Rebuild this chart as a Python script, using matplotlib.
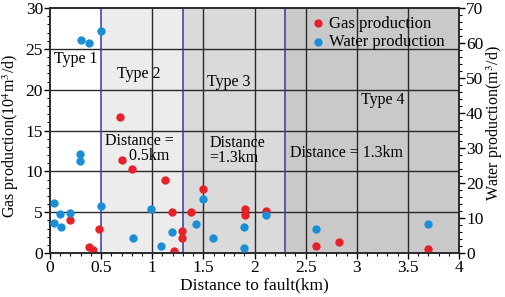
import matplotlib
matplotlib.use("Agg")
import matplotlib.pyplot as plt
from matplotlib.ticker import MultipleLocator

plt.rcParams['font.family'] = ['Liberation Serif', 'DejaVu Serif']
plt.rcParams['mathtext.fontset'] = 'stix'

# gas production (10^4 m3/d) vs distance to fault (km)
gas_x = [0.20, 0.38, 0.42, 0.48, 0.68, 0.70, 0.80, 1.12, 1.19, 1.21, 1.29, 1.29,
         1.38, 1.50, 1.91, 1.91, 2.11, 2.60, 2.83, 3.70]
gas_y = [4.0, 0.8, 0.4, 2.9, 16.6, 11.4, 10.3, 8.9, 5.0, 0.3, 2.7, 1.9,
         5.0, 7.8, 5.4, 4.6, 5.1, 0.9, 1.3, 0.5]

# water production (m3/d) vs distance to fault (km)
water_x = [0.04, 0.04, 0.10, 0.11, 0.20, 0.29, 0.29, 0.30, 0.38, 0.50, 0.50, 0.81,
           0.99, 1.09, 1.19, 1.43, 1.50, 1.59, 1.90, 1.90, 2.11, 2.60, 3.70]
water_y = [14.4, 8.5, 11.1, 7.3, 11.5, 28.3, 26.2, 60.9, 59.9, 63.4, 13.4, 4.4,
           12.6, 2.0, 6.1, 8.3, 15.4, 4.4, 7.5, 1.5, 10.9, 6.8, 8.2]

# zone boundaries (km) and shading
zone_edges = [0, 0.5, 1.3, 2.3, 4.0]
zone_colors = ["#ffffff", "#ececec", "#dadada", "#c9c9c9"]

RED = "#e8202a"
BLUE = "#1a8fd8"

fig = plt.figure(figsize=(5.05, 2.97), dpi=100)
ax = fig.add_axes([0.099, 0.148, 0.810, 0.825])
ax2 = ax.twinx()

for i, c in enumerate(zone_colors):
    ax.axvspan(zone_edges[i], zone_edges[i + 1], color=c, lw=0, zorder=0)

for gx in [1, 1.5, 2, 2.5, 3, 3.5]:
    ax.axvline(gx, color="#2a2a2a", lw=1.0, zorder=1)
for gy in [5, 10, 15, 20, 25]:
    ax.axhline(gy, color="#2a2a2a", lw=1.0, zorder=1)
for bx in [0.5, 1.3, 2.3]:
    ax.axvline(bx, color="#3a3a98", lw=1.1, zorder=2)

ax.set_xlim(0, 4)
ax.set_ylim(0, 30)
ax2.set_ylim(0, 70)

ax.scatter(gas_x, gas_y, s=36, color=RED, lw=0, zorder=4)
ax2.scatter(water_x, water_y, s=36, color=BLUE, lw=0, zorder=4)
ax2.scatter([], [], s=36, color=RED, lw=0, label="Gas production")
ax2.scatter([], [], s=36, color=BLUE, lw=0, label="Water production")

fs = 11.5
labels = [
    (0.04, 23.3, "Type 1"),
    (0.66, 21.4, "Type 2"),
    (1.54, 20.4, "Type 3"),
    (3.04, 18.2, "Type 4"),
]
for x, y, t in labels:
    ax.text(x, y, t, fontsize=fs, zorder=5)
ax.text(0.54, 11.4, "Distance =\n      0.5km", fontsize=fs, zorder=5, linespacing=0.9)
ax.text(1.56, 11.2, "Distance\n=1.3km", fontsize=fs, zorder=5, linespacing=0.9)
ax.text(2.35, 11.7, "Distance = 1.3km", fontsize=fs, zorder=5)

ax.xaxis.set_major_locator(MultipleLocator(0.5))
ax.xaxis.set_minor_locator(MultipleLocator(0.1))
ax.yaxis.set_major_locator(MultipleLocator(5))
ax.yaxis.set_minor_locator(MultipleLocator(1))
ax2.yaxis.set_major_locator(MultipleLocator(10))
ax2.yaxis.set_minor_locator(MultipleLocator(2))

ax.set_xticks([0, 0.5, 1, 1.5, 2, 2.5, 3, 3.5, 4])
ax.set_xticklabels(["0", "0.5", "1", "1.5", "2", "2.5", "3", "3.5", "4"])

for a in (ax, ax2):
    a.tick_params(which="major", direction="out", length=4, width=1, labelsize=12.5, pad=1)
    a.tick_params(which="minor", direction="out", length=2, width=0.8)
    for sp in a.spines.values():
        sp.set_color("#2a2a2a")
        sp.set_linewidth(1.2)

ax.set_xlabel("Distance to fault(km)", fontsize=12.5, labelpad=1)
ax.set_ylabel("Gas production(10$^4$m$^3$/d)", fontsize=11.5)
ax2.set_ylabel("Water production(m$^3$/d)", fontsize=11.5)
ax.yaxis.set_label_coords(-0.072, 0.48)
ax2.yaxis.set_label_coords(1.062, 0.53)

ax2.legend(loc="upper right", bbox_to_anchor=(0.99, 1.01), frameon=False, fontsize=12,
           handletextpad=0.1, labelspacing=0.15, borderaxespad=0.2, handlelength=1.2)

fig.savefig("out.png", dpi=100)
